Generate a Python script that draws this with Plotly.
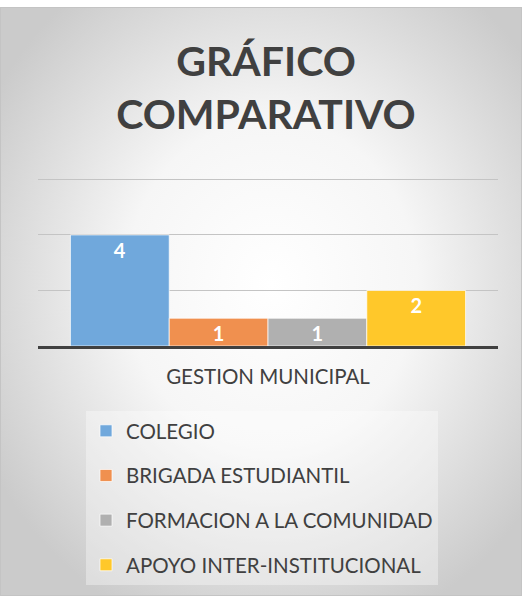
import base64
import plotly.graph_objects as go

# ---- data ----
category = ["GESTION MUNICIPAL"]
series_names = ["COLEGIO", "BRIGADA ESTUDIANTIL", "FORMACION A LA COMUNIDAD", "APOYO INTER-INSTITUCIONAL"]
series_values = [4, 1, 1, 2]
series_colors = ["#70A8DC", "#F0904F", "#B0B0B0", "#FFC82A"]
title_text = "GRÁFICO<br>COMPARATIVO"

W, H = 522, 596
L, R, T, B = 38, 24, 178, 250
pw, ph = W - L - R, H - T - B
TOPWHITE = 7

svg = f"""<svg xmlns='http://www.w3.org/2000/svg' width='{W}' height='{H - TOPWHITE}' viewBox='0 0 {W} {H - TOPWHITE}'>
<defs><radialGradient id='g' cx='0.52' cy='0.47' r='0.62' gradientUnits='objectBoundingBox'>
<stop offset='0' stop-color='#FFFFFF'/><stop offset='0.45' stop-color='#F6F6F6'/><stop offset='1' stop-color='#CBCBCB'/></radialGradient></defs>
<rect x='0' y='0' width='{W}' height='{H - TOPWHITE}' fill='url(#g)'/>
<rect x='0.5' y='0.5' width='{W - 1}' height='{H - TOPWHITE - 1}' fill='none' stroke='#C4C4C4' stroke-width='1'/>
</svg>"""
src = "data:image/svg+xml;base64," + base64.b64encode(svg.encode()).decode()

fig = go.Figure()
for i, (name, val, col) in enumerate(zip(series_names, series_values, series_colors)):
    fig.add_trace(go.Bar(
        x=category, y=[val], name=name,
        marker=dict(color=col, line=dict(color="rgba(255,255,255,0.7)", width=1)),
        text=[val], textposition="inside", insidetextanchor="end",
        constraintext="none", textangle=0,
        textfont=dict(family="Lato", size=20, color="white", weight="bold"),
        legendgroup=f"g{i}",
    ))

fig.update_layout(
    width=W, height=H,
    margin=dict(l=L, r=R, t=T, b=B, autoexpand=False),
    paper_bgcolor="white",
    plot_bgcolor="rgba(0,0,0,0)",
    barmode="group", bargap=0.141, bargroupgap=0,
    font=dict(family="Lato", color="#404040"),
    title=dict(text=title_text, x=266 / W, xanchor="center", xref="container",
               y=1 - 76 / H, yanchor="top", yref="container",
               font=dict(family="Lato", size=41, color="#404040", weight="bold")),
    showlegend=True,
    legend=dict(
        orientation="v", xref="paper", yref="paper",
        x=(86 - L) / pw, xanchor="left", y=-(411 - (T + ph)) / ph, yanchor="top",
        bgcolor="rgba(255,255,255,0.35)", borderwidth=0,
        font=dict(family="Lato", size=20.5, color="#404040"),
        traceorder="grouped", tracegroupgap=15,
        itemclick=False,
    ),
    images=[dict(source=src, xref="paper", yref="paper",
                 x=-L / pw, y=1 + (T - TOPWHITE) / ph,
                 sizex=W / pw, sizey=(H - TOPWHITE) / ph,
                 xanchor="left", yanchor="top", sizing="stretch", layer="below")],
)
fig.update_xaxes(showline=True, linecolor="#404040", linewidth=3,
                 ticks="outside", ticklen=10, tickcolor="rgba(0,0,0,0)",
                 tickfont=dict(family="Lato", size=20.5, color="#404040"),
                 showgrid=False, fixedrange=True)
fig.update_yaxes(range=[0, 6.05], dtick=2, showticklabels=False,
                 showgrid=True, gridcolor="#C4C4C4", gridwidth=1,
                 zeroline=False, fixedrange=True)

fig.write_html("out.html", config={"displayModeBar": False},
               post_script="document.body.style.margin='0';document.body.style.padding='0';")
